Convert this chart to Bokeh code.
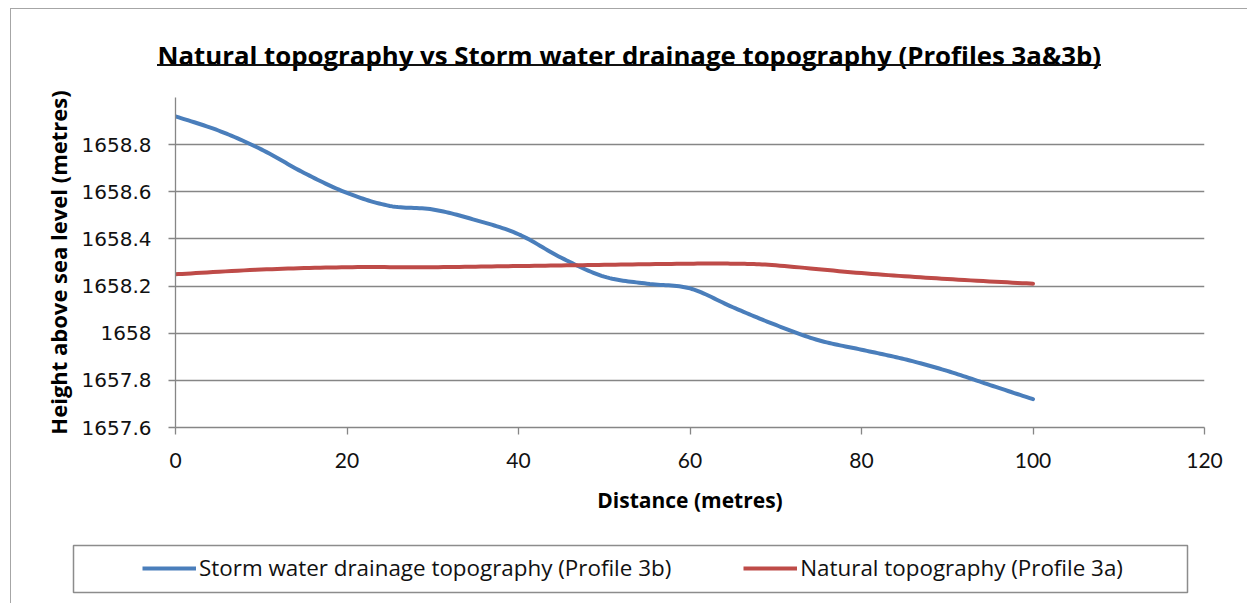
from bokeh.plotting import figure
from bokeh.models import (Range1d, FixedTicker, CustomJSTickFormatter, Legend, LegendItem,
                          InlineStyleSheet)
from bokeh.embed import file_html
from bokeh.resources import INLINE

# ---- data ----
storm_x = [0, 5, 10, 15, 20, 25, 30, 35, 40, 45, 50, 55, 60, 65, 70, 75, 80, 85, 90, 95, 100]
storm_y = [1658.92, 1658.86, 1658.78, 1658.68, 1658.595, 1658.54, 1658.525, 1658.48, 1658.42,
           1658.32, 1658.24, 1658.21, 1658.19, 1658.11, 1658.035, 1657.97, 1657.93, 1657.89,
           1657.84, 1657.78, 1657.72]
natural_x = [0, 10, 20, 30, 40, 50, 60, 65, 70, 80, 90, 100]
natural_y = [1658.25, 1658.27, 1658.28, 1658.28, 1658.285, 1658.29, 1658.295, 1658.295,
             1658.288, 1658.255, 1658.23, 1658.21]
x_ticks = [0, 20, 40, 60, 80, 100, 120]
y_ticks = [1657.6, 1657.8, 1658.0, 1658.2, 1658.4, 1658.6, 1658.8]

title_text = "Natural topography vs Storm water drainage topography (Profiles 3a&3b)"
x_title = "Distance (metres)"
y_title = "Height above sea level (metres)"
storm_name = "Storm water drainage topography (Profile 3b)"
natural_name = "Natural topography (Profile 3a)"


def smooth(xs, ys, n=16):
    """Excel-style smoothed line (Catmull-Rom) through the data points, for drawing."""
    pts = list(zip(xs, ys))
    ox, oy = [], []
    for i in range(len(pts) - 1):
        p0 = pts[max(i - 1, 0)]
        p1 = pts[i]
        p2 = pts[i + 1]
        p3 = pts[min(i + 2, len(pts) - 1)]
        for k in range(n):
            t = k / n
            t2, t3 = t * t, t * t * t
            for j, out in ((0, ox), (1, oy)):
                out.append(0.5 * ((2 * p1[j]) + (-p0[j] + p2[j]) * t
                                  + (2 * p0[j] - 5 * p1[j] + 4 * p2[j] - p3[j]) * t2
                                  + (-p0[j] + 3 * p1[j] - 3 * p2[j] + p3[j]) * t3))
    ox.append(pts[-1][0])
    oy.append(pts[-1][1])
    return ox, oy


W = 1247
H_MAIN, H_LEG = 527, 76
blue = "#4A7EBB"
red = "#BE4B48"
grid_col = "#868686"
CAL = "Open Sans"

# decorations: outer chart border (left/top) and the title underline
css_main = InlineStyleSheet(css="""
:host::before { content: ""; position: absolute; left: 10px; top: 8px; width: 1237px; height: 519px;
  box-sizing: border-box; border-left: 1.5px solid #a6a6a6; border-top: 1.5px solid #a6a6a6;
  pointer-events: none; z-index: 5; }
.bk-Canvas::after { content: ""; position: absolute; left: 157px; top: 64px; width: 944px; height: 2px;
  background: #111; pointer-events: none; z-index: 5; }
""")
css_leg = InlineStyleSheet(css="""
:host::before { content: ""; position: absolute; left: 10px; top: 0px; width: 10px; height: 76px;
  box-sizing: border-box; border-left: 1.5px solid #a6a6a6; pointer-events: none; z-index: 5; }
""")

# ---- main chart ----
p = figure(width=W, height=H_MAIN, output_backend="svg", toolbar_location=None,
           x_range=Range1d(0, 120), y_range=Range1d(1657.6, 1659.0),
           min_border_left=175, min_border_right=43, min_border_top=97, min_border_bottom=100,
           stylesheets=[css_main])
p.title.text = title_text
p.title.align = "left"
p.title.offset = -18
p.title.standoff = 50
p.title.text_font = CAL
p.title.text_font_size = "25.8px"
p.title.text_font_style = "bold"
p.title.text_color = "#000000"
p.outline_line_color = None
p.background_fill_color = "white"
p.border_fill_color = "white"

for ax in (p.xaxis[0], p.yaxis[0]):
    ax.axis_line_color = grid_col
    ax.axis_line_width = 1.3
    ax.major_tick_line_color = grid_col
    ax.major_tick_line_width = 1.3
    ax.major_tick_out = 7
    ax.major_tick_in = 0
    ax.minor_tick_line_color = None
    ax.major_label_text_color = "#111111"
    ax.axis_label_text_color = "#000000"
    ax.axis_label_text_font_style = "bold"

p.xaxis.ticker = FixedTicker(ticks=x_ticks)
p.yaxis.ticker = FixedTicker(ticks=y_ticks)
p.yaxis.formatter = CustomJSTickFormatter(code="return String(Math.round(tick*10)/10);")

p.xaxis.major_label_text_font = "Lato"
p.xaxis.major_label_text_font_size = "21px"
p.xaxis.major_label_standoff = 18
p.xaxis.axis_label = x_title
p.xaxis.axis_label_text_font = CAL
p.xaxis.axis_label_text_font_size = "21px"
p.xaxis.axis_label_standoff = 15

p.yaxis.major_label_text_font = "DejaVu Sans"
p.yaxis.major_label_text_font_size = "20px"
p.yaxis.major_label_standoff = 17
p.yaxis.axis_label = y_title
p.yaxis.axis_label_text_font = CAL
p.yaxis.axis_label_text_font_size = "22px"
p.yaxis.axis_label_standoff = 6

p.xgrid.grid_line_color = None
p.ygrid.grid_line_color = grid_col
p.ygrid.grid_line_width = 1.3

sx, sy = smooth(storm_x, storm_y)
nx, ny = smooth(natural_x, natural_y)
p.line(sx, sy, line_color=blue, line_width=4, line_join="round", line_cap="round")
p.line(nx, ny, line_color=red, line_width=4, line_join="round", line_cap="round")

# ---- legend panel: its frame is the legend box ----
pl = figure(width=W, height=H_LEG, output_backend="svg", toolbar_location=None,
            x_axis_type=None, y_axis_type=None,
            x_range=Range1d(-10, -9), y_range=Range1d(0, 1),
            min_border_left=73, min_border_right=60, min_border_top=18, min_border_bottom=11,
            stylesheets=[css_leg])
pl.title.visible = False
pl.grid.visible = False
pl.outline_line_color = "#8c8c8c"
pl.outline_line_width = 1.5
pl.background_fill_color = "white"
pl.border_fill_color = "white"
ls = pl.line(storm_x, storm_y, line_color=blue, line_width=4)
ln = pl.line(natural_x, natural_y, line_color=red, line_width=4)
legend = Legend(items=[LegendItem(label=storm_name, renderers=[ls]),
                       LegendItem(label=natural_name, renderers=[ln])],
                orientation="horizontal", location=(69, 9),
                border_line_color=None, background_fill_alpha=0,
                padding=0, margin=0, spacing=72, glyph_width=54, glyph_height=20,
                label_standoff=3, label_text_font=CAL, label_text_font_size="22.4px",
                label_text_color="#111111")
pl.add_layout(legend, "center")

open("out.html", "w").write(file_html([p, pl], INLINE))
